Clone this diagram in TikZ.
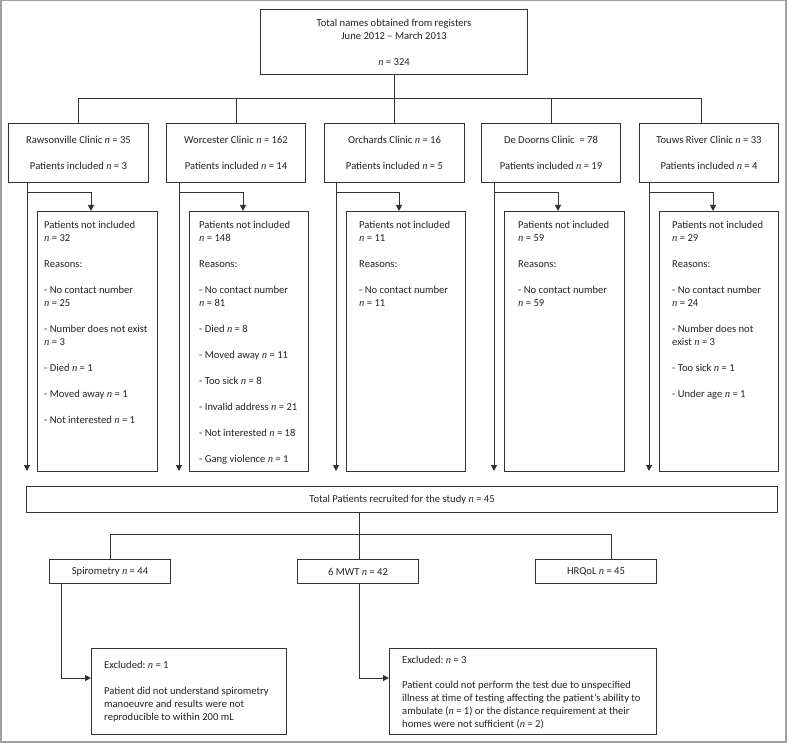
\documentclass[tikz,border=0pt]{standalone}
\usepackage{fontspec}
\setmainfont{Carlito}
\newfontfamily\nfont{Liberation Serif}
\newcommand{\nv}{{\nfont\itshape n}}
\usetikzlibrary{arrows.meta}
\definecolor{linec}{HTML}{333333}
\definecolor{framec}{HTML}{A0A0A0}
\definecolor{textc}{HTML}{222222}
\frenchspacing
\begin{document}
\begin{tikzpicture}[x=1pt,y=-1pt,
  box/.style={draw=linec, line width=1pt, inner sep=0pt, anchor=north west},
  txt/.style={inner sep=0pt, font=\fontsize{10.6}{13}\selectfont, text=textc},
  ltxt/.style={txt, anchor=north west, align=left},
  ctxt/.style={txt, align=center},
  conn/.style={draw=linec, line width=1pt},
  arr/.style={conn, -{Triangle[length=6pt,width=6pt]}}]
\useasboundingbox (0,0) rectangle (787,743);
\draw[framec, line width=1.5pt] (0.75,0.75) rectangle (786,742);

% top box
\node[box, minimum width=267pt, minimum height=65pt] (top) at (260,9) {};
\node[ctxt] (toptxt) at (top.center) {Total names obtained from registers\\ June 2012 -- March 2013\\[13pt] \nv{} = 324};

% clinic boxes
\node[box, minimum width=140pt, minimum height=59pt] (c1) at (8,123) {};
\node[box, minimum width=139pt, minimum height=59pt] (c2) at (166,123) {};
\node[box, minimum width=140pt, minimum height=59pt] (c3) at (324,123) {};
\node[box, minimum width=139pt, minimum height=59pt] (c4) at (481,123) {};
\node[box, minimum width=139pt, minimum height=59pt] (c5) at (639,123) {};
\node[ctxt] (c1t) at (c1.center) {Rawsonville Clinic \nv{} = 35\\[13pt] Patients included \nv{} = 3};
\node[ctxt] (c2t) at (c2.center) {Worcester Clinic \nv{} = 162\\[13pt] Patients included \nv{} = 14};
\node[ctxt] (c3t) at (c3.center) {Orchards Clinic \nv{} = 16\\[13pt] Patients included \nv{} = 5};
\node[ctxt] (c4t) at (c4.center) {De Doorns Clinic\ \ = 78\\[13pt] Patients included \nv{} = 19};
\node[ctxt] (c5t) at (c5.center) {Touws River Clinic \nv{} = 33\\[13pt] Patients included \nv{} = 4};

% bus from top box to clinics
\coordinate (bus) at (0,99);
\coordinate (bus5) at (701,99);
\draw[conn] (top.south) -- (top.south |- bus);
\draw[conn] (c1.north) |- (bus5) -- (bus5 |- c5.north);
\draw[conn] (c2.north) -- (c2.north |- bus);
\draw[conn] (c3.north) -- (c3.north |- bus);
\draw[conn] (c4.north) -- (c4.north |- bus);

% not included boxes
\node[box, minimum width=120pt, minimum height=260pt] (n1) at (37,211) {};
\node[box, minimum width=119pt, minimum height=260pt] (n2) at (189,211) {};
\node[box, minimum width=119pt, minimum height=260pt] (n3) at (346,211) {};
\node[box, minimum width=120pt, minimum height=260pt] (n4) at (504,211) {};
\node[box, minimum width=119pt, minimum height=260pt] (n5) at (659,211) {};

\node[ltxt] (n1t) at (44,220.5) {Patients not included\\ \nv{} = 32\\[13pt] Reasons:\\[13pt] - No contact number\\ \nv{} = 25\\[13pt] - Number does not exist\\ \nv{} = 3\\[13pt] - Died \nv{} = 1\\[13pt] - Moved away \nv{} = 1\\[13pt] - Not interested \nv{} = 1};
\node[ltxt] (n2t) at (199,220.5) {Patients not included\\ \nv{} = 148\\[13pt] Reasons:\\[13pt] - No contact number\\ \nv{} = 81\\[13pt] - Died \nv{} = 8\\[13pt] - Moved away \nv{} = 11\\[13pt] - Too sick \nv{} = 8\\[13pt] - Invalid address \nv{} = 21\\[13pt] - Not interested \nv{} = 18\\[13pt] - Gang violence \nv{} = 1};
\node[ltxt] (n3t) at (359,220.5) {Patients not included\\ \nv{} = 11\\[13pt] Reasons:\\[13pt] - No contact number\\ \nv{} = 11};
\node[ltxt] (n4t) at (518,220.5) {Patients not included\\ \nv{} = 59\\[13pt] Reasons:\\[13pt] - No contact number\\ \nv{} = 59};
\node[ltxt] (n5t) at (672,220.5) {Patients not included\\ \nv{} = 29\\[13pt] Reasons:\\[13pt] - No contact number\\ \nv{} = 24\\[13pt] - Number does not\\ exist \nv{} = 3\\[13pt] - Too sick \nv{} = 1\\[13pt] - Under age \nv{} = 1};

% drops and branches
\foreach \i/\vx/\bx in {1/27/91, 2/179/243, 3/336/399, 4/494/558, 5/649/713} {
  \coordinate (v\i) at (\vx,471);
  \coordinate (br\i) at (\vx,193);
  \coordinate (be\i) at (\bx,211);
  \draw[arr] (c\i.south -| v\i) -- (v\i);
  \draw[arr] (br\i) -| (n\i.north -| be\i);
}

% total box
\node[box, minimum width=751pt, minimum height=26pt] (tot) at (26,486) {};
\node[ctxt] (tott) at (tot.center) {Total Patients recruited for the study \nv{} = 45};

% tests
\node[box, minimum width=121pt, minimum height=24pt] (sp) at (49,559) {};
\node[box, minimum width=121pt, minimum height=24pt] (mw) at (297,559) {};
\node[box, minimum width=121pt, minimum height=24pt] (hq) at (535,559) {};
\node[ctxt] (spt) at (sp.center) {Spirometry \nv{} = 44};
\node[ctxt] (mwt) at (mw.center) {6 MWT \nv{} = 42};
\node[ctxt] (hqt) at (hq.center) {HRQoL \nv{} = 45};

\coordinate (tx) at (359,0);
\coordinate (bus2a) at (110,534);
\coordinate (bus2b) at (611,534);
\draw[conn] (tot.south -| tx) -- (mw.north -| tx);
\draw[conn] (sp.north -| bus2a) -- (bus2a) -- (bus2b) -- (hq.north -| bus2b);

% excluded boxes
\node[box, minimum width=195pt, minimum height=86pt] (e1) at (91,648) {};
\node[box, minimum width=267pt, minimum height=86pt] (e2) at (389,648) {};
\node[ltxt] (e1t) at (104,660.5) {Excluded: \nv{} = 1\\[13pt] Patient did not understand spirometry\\ manoeuvre and results were not\\ reproducible to within 200 mL};
\node[ltxt] (e2t) at (402,655.5) {Excluded: \nv{} = 3\\[12pt] Patient could not perform the test due to unspecified\\ illness at time of testing affecting the patient’s ability to\\ ambulate (\nv{} = 1) or the distance requirement at their\\ homes were not sufficient (\nv{} = 2)};

\coordinate (sx) at (61,678);
\coordinate (mx) at (359,678);
\draw[arr] (sp.south -| sx) |- (e1.west |- sx);
\draw[arr] (mw.south -| mx) |- (e2.west |- mx);
\end{tikzpicture}
\end{document}
